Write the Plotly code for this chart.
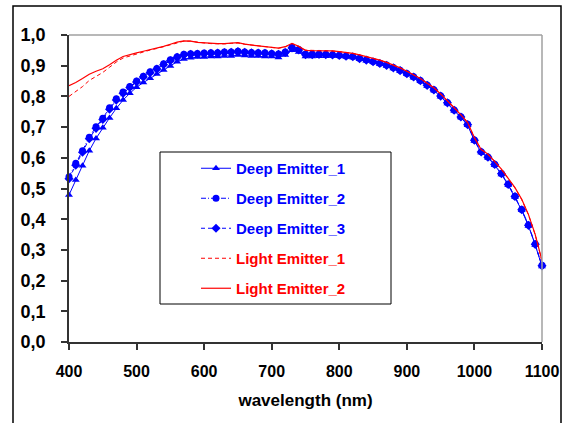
import plotly.graph_objects as go

wavelength = list(range(400, 1101, 10))

deep_1 = [0.479, 0.528, 0.574, 0.623, 0.663, 0.698, 0.730, 0.761, 0.788, 0.810,
          0.830, 0.845, 0.859, 0.873, 0.886, 0.899, 0.913, 0.922, 0.926, 0.928,
          0.928, 0.930, 0.930, 0.932, 0.932, 0.935, 0.933, 0.932, 0.932, 0.930,
          0.930, 0.927, 0.935, 0.950, 0.945, 0.930, 0.930, 0.931, 0.931, 0.932,
          0.931, 0.929, 0.927, 0.921, 0.916, 0.911, 0.905, 0.899, 0.891, 0.882,
          0.872, 0.861, 0.849, 0.834, 0.819, 0.799, 0.777, 0.753, 0.731, 0.706,
          0.655, 0.617, 0.600, 0.576, 0.546, 0.511, 0.472, 0.429, 0.378, 0.316, 0.246]

deep_2 = [0.538, 0.582, 0.623, 0.667, 0.701, 0.729, 0.763, 0.792, 0.814, 0.832,
          0.850, 0.866, 0.880, 0.891, 0.906, 0.919, 0.929, 0.937, 0.939, 0.940,
          0.941, 0.942, 0.942, 0.945, 0.945, 0.947, 0.945, 0.943, 0.942, 0.942,
          0.940, 0.938, 0.945, 0.960, 0.953, 0.938, 0.938, 0.938, 0.937, 0.936,
          0.934, 0.932, 0.930, 0.924, 0.919, 0.914, 0.908, 0.902, 0.894, 0.885,
          0.875, 0.864, 0.852, 0.837, 0.822, 0.802, 0.780, 0.756, 0.734, 0.709,
          0.658, 0.620, 0.603, 0.579, 0.549, 0.514, 0.475, 0.432, 0.381, 0.319, 0.250]

deep_3 = [0.532, 0.576, 0.618, 0.662, 0.696, 0.725, 0.758, 0.788, 0.810, 0.829,
          0.847, 0.863, 0.877, 0.889, 0.903, 0.916, 0.927, 0.935, 0.937, 0.938,
          0.939, 0.940, 0.941, 0.943, 0.944, 0.946, 0.944, 0.942, 0.941, 0.940,
          0.939, 0.937, 0.943, 0.958, 0.951, 0.936, 0.936, 0.937, 0.936, 0.935,
          0.933, 0.931, 0.929, 0.923, 0.918, 0.913, 0.907, 0.901, 0.893, 0.884,
          0.874, 0.863, 0.851, 0.836, 0.821, 0.801, 0.779, 0.755, 0.733, 0.708,
          0.657, 0.619, 0.602, 0.578, 0.548, 0.513, 0.474, 0.431, 0.380, 0.318, 0.248]

light_1 = [0.800, 0.815, 0.832, 0.852, 0.866, 0.878, 0.895, 0.912, 0.925, 0.932,
           0.938, 0.945, 0.951, 0.956, 0.962, 0.969, 0.976, 0.980, 0.980, 0.976,
           0.974, 0.972, 0.971, 0.971, 0.973, 0.974, 0.970, 0.967, 0.965, 0.962,
           0.960, 0.957, 0.961, 0.972, 0.963, 0.951, 0.950, 0.950, 0.949, 0.948,
           0.946, 0.944, 0.940, 0.935, 0.930, 0.924, 0.918, 0.911, 0.903, 0.893,
           0.882, 0.871, 0.858, 0.843, 0.828, 0.808, 0.787, 0.763, 0.740, 0.715,
           0.665, 0.627, 0.612, 0.589, 0.562, 0.532, 0.502, 0.464, 0.414, 0.349, 0.263]

light_2 = [0.835, 0.845, 0.858, 0.872, 0.882, 0.890, 0.903, 0.918, 0.930, 0.937,
           0.942, 0.947, 0.952, 0.957, 0.963, 0.970, 0.977, 0.981, 0.980, 0.976,
           0.974, 0.972, 0.972, 0.972, 0.974, 0.975, 0.970, 0.967, 0.965, 0.962,
           0.960, 0.957, 0.962, 0.973, 0.963, 0.950, 0.949, 0.949, 0.949, 0.948,
           0.946, 0.944, 0.940, 0.935, 0.930, 0.924, 0.918, 0.911, 0.903, 0.893,
           0.882, 0.871, 0.858, 0.843, 0.828, 0.808, 0.787, 0.763, 0.740, 0.715,
           0.665, 0.627, 0.612, 0.589, 0.563, 0.533, 0.503, 0.465, 0.415, 0.350, 0.265]

x_ticks = [400, 500, 600, 700, 800, 900, 1000, 1100]
y_ticks = [0.0, 0.1, 0.2, 0.3, 0.4, 0.5, 0.6, 0.7, 0.8, 0.9, 1.0]

BLUE = "#0000FF"
RED = "#FF0000"
FONT = "Liberation Sans, Arial, sans-serif"

fig = go.Figure()

def lbl(text, color):
    return f"<span style='color:{color}'><b>{text}</b></span>"

fig.add_trace(go.Scatter(x=wavelength, y=deep_1, mode="lines+markers",
                         name=lbl("Deep Emitter_1", BLUE), legendgroup="a",
                         cliponaxis=False,
                         line=dict(color=BLUE, width=1),
                         marker=dict(symbol="triangle-up", size=7, color=BLUE)))
fig.add_trace(go.Scatter(x=wavelength, y=deep_2, mode="lines+markers",
                         name=lbl("Deep Emitter_2", BLUE), legendgroup="b",
                         cliponaxis=False,
                         line=dict(color=BLUE, width=1, dash="5px,2px,1px,2px"),
                         marker=dict(symbol="circle", size=7, color=BLUE)))
fig.add_trace(go.Scatter(x=wavelength, y=deep_3, mode="lines+markers",
                         name=lbl("Deep Emitter_3", BLUE), legendgroup="c",
                         cliponaxis=False,
                         line=dict(color=BLUE, width=1, dash="4px,3px"),
                         marker=dict(symbol="diamond", size=7, color=BLUE)))
fig.add_trace(go.Scatter(x=wavelength, y=light_1, mode="lines",
                         name=lbl("Light Emitter_1", RED), legendgroup="d",
                         line=dict(color=RED, width=1, dash="4px,3px")))
fig.add_trace(go.Scatter(x=wavelength, y=light_2, mode="lines",
                         name=lbl("Light Emitter_2", RED), legendgroup="e",
                         line=dict(color=RED, width=1.2)))

L, R, T, B = 69, 23, 35, 81
W, H = 565, 423
pw, ph = W - L - R, H - T - B

def px(xp):
    return (xp - L) / pw

def py(yp):
    return (H - B - yp) / ph

shapes = [
    dict(type="rect", xref="paper", yref="paper", x0=px(13), x1=px(561),
         y0=py(440), y1=py(6), line=dict(color="black", width=1.5)),
    dict(type="line", xref="paper", yref="paper", x0=0, x1=1, y0=1, y1=1,
         line=dict(color="#A0A0A0", width=1.5)),
    dict(type="line", xref="paper", yref="paper", x0=1, x1=1, y0=0, y1=1,
         line=dict(color="#A0A0A0", width=1.5)),
    dict(type="rect", xref="paper", yref="paper", x0=px(160), x1=px(391),
         y0=py(304), y1=py(152), line=dict(color="black", width=1),
         fillcolor="white", layer="below"),
]

fig.update_layout(
    width=W, height=H,
    margin=dict(l=L, r=R, t=T, b=B, autoexpand=False),
    paper_bgcolor="white", plot_bgcolor="white",
    separators=", ",
    font=dict(family=FONT, color="black"),
    showlegend=True,
    legend=dict(x=px(196), y=py(152), xanchor="left", yanchor="top",
                bgcolor="rgba(0,0,0,0)", borderwidth=0,
                font=dict(size=15, family=FONT, weight="bold"),
                traceorder="grouped", tracegroupgap=7.5,
                itemwidth=30),
    shapes=shapes,
    xaxis=dict(range=[400, 1100], tickvals=x_ticks, ticks="outside", ticklen=6,
               tickwidth=1.5, tickcolor="#333", showline=True, linecolor="#333",
               linewidth=1.5, showgrid=False, zeroline=False, automargin=False,
               tickfont=dict(size=16, family=FONT, color="black", weight="bold"),
               ticklabelstandoff=8,
               title=dict(text="wavelength (nm)",
                          font=dict(size=17, family=FONT, weight="bold"),
                          standoff=15)),
    yaxis=dict(range=[0, 1], tickvals=y_ticks, tickformat=".1f", ticks="outside",
               ticklen=6, tickwidth=1.5, tickcolor="#333", showline=True,
               linecolor="#333", linewidth=1.5, showgrid=False, zeroline=False,
               automargin=False,
               tickfont=dict(size=18, family=FONT, color="black", weight="bold"),
               ticklabelstandoff=12),
)

fig.write_html("out.html", config={"displayModeBar": False},
               post_script="document.body.style.margin='0';document.body.style.overflow='hidden';")
